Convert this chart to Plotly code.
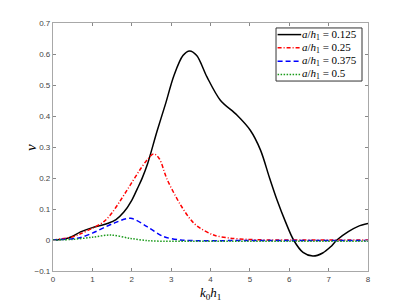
import plotly.graph_objects as go

# a/h1 = 0.125
x1 = [0, 0.3, 0.5, 0.7, 1.0, 1.21, 1.4, 1.6, 1.8, 2.0, 2.14, 2.26, 2.4, 2.64, 2.86, 3.07, 3.3, 3.47, 3.65, 3.91, 4.25, 4.67, 5.01, 5.27, 5.5, 5.69, 5.9, 6.11, 6.35, 6.6, 6.85, 7.05, 7.21, 7.5, 7.75, 8.0]
y1 = [0, 0.003, 0.012, 0.026, 0.04, 0.047, 0.054, 0.066, 0.09, 0.128, 0.165, 0.198, 0.245, 0.35, 0.44, 0.53, 0.595, 0.61, 0.595, 0.526, 0.451, 0.403, 0.354, 0.29, 0.2, 0.129, 0.06, 0.0, -0.04, -0.052, -0.042, -0.022, 0.0, 0.027, 0.044, 0.053]
# a/h1 = 0.25
x2 = [0, 0.5, 0.7, 1.0, 1.3, 1.5, 1.7, 2.0, 2.2, 2.4, 2.56, 2.7, 2.9, 3.24, 3.5, 3.66, 4.08, 4.5, 4.93, 5.5, 6.0, 7.0, 8.0]
y2 = [0, 0.01, 0.02, 0.038, 0.06, 0.088, 0.125, 0.185, 0.225, 0.26, 0.278, 0.262, 0.195, 0.113, 0.065, 0.045, 0.016, 0.006, 0.002, 0.0, 0, 0, 0]
# a/h1 = 0.375
x3 = [0, 0.5, 0.7, 1.0, 1.54, 1.97, 2.39, 2.81, 3.24, 3.6, 4.5, 6.0, 8.0]
y3 = [0, 0.004, 0.008, 0.022, 0.054, 0.07, 0.043, 0.011, 0.0, -0.002, -0.002, -0.002, -0.002]
# a/h1 = 0.5
x4 = [0, 0.5, 1.0, 1.46, 1.97, 2.4, 2.81, 3.5, 4.5, 6.0, 8.0]
y4 = [0, 0.002, 0.009, 0.016, 0.005, -0.002, -0.004, -0.004, -0.004, -0.004, -0.004]

names = ["<i>a</i>/<i>h</i><sub>1</sub> = 0.125", "<i>a</i>/<i>h</i><sub>1</sub> = 0.25",
         "<i>a</i>/<i>h</i><sub>1</sub> = 0.375", "<i>a</i>/<i>h</i><sub>1</sub> = 0.5"]
colors = ["black", "red", "blue", "#1a9a1a"]
dashes = ["solid", "4px,2px,1px,2px", "5px,3px", "1.5px,1.5px"]
xs = [x1, x2, x3, x4]
ys = [y1, y2, y3, y4]

fig = go.Figure()
for x, y, n, c, d in zip(xs, ys, names, colors, dashes):
    fig.add_trace(go.Scatter(x=x, y=y, name=n, mode="lines", showlegend=False,
                             line=dict(color=c, dash=d, width=1.5, shape="spline", smoothing=0.9)))

# compact legend box (paper coordinates), MATLAB style
lx0, lx1, ly0, ly1 = 0.708, 0.981, 0.766, 0.980
fig.add_shape(type="rect", xref="paper", yref="paper", x0=lx0, x1=lx1, y0=ly0, y1=ly1,
              line=dict(color="#333", width=1), fillcolor="white", layer="above")
row_h = (ly1 - ly0) / 4
for i, (n, c, d) in enumerate(zip(names, colors, dashes)):
    yc = ly1 - row_h * (i + 0.5)
    fig.add_shape(type="line", xref="paper", yref="paper", x0=lx0 + 0.005, x1=lx0 + 0.08,
                  y0=yc, y1=yc, line=dict(color=c, dash=d, width=1.5), layer="above")
    fig.add_annotation(xref="paper", yref="paper", x=lx0 + 0.08, y=yc, xanchor="left",
                       yanchor="middle", text=n, showarrow=False, borderpad=0,
                       font=dict(family="Liberation Serif", size=11, color="black"))

# axis titles
fig.add_annotation(xref="paper", yref="paper", x=0.5, y=-0.092, xanchor="center", yanchor="middle",
                   text="<i>k</i><sub>0</sub><i>h</i><sub>1</sub>", showarrow=False, borderpad=0,
                   font=dict(family="Liberation Serif", size=13, color="black"))
fig.add_annotation(xref="paper", yref="paper", x=-0.07, y=0.5, xanchor="center", yanchor="middle",
                   text="<i>ν</i>", showarrow=False, textangle=-90,
                   font=dict(family="Liberation Serif", size=15, color="black"))

axis_common = dict(showgrid=False, zeroline=False, showline=True, mirror="ticks",
                   linecolor="#a8a8a8", linewidth=1.3, ticks="inside", ticklen=3,
                   tickcolor="#888888", automargin=False,
                   tickfont=dict(family="Liberation Sans", size=8, color="#444"))
fig.update_xaxes(range=[0, 8], dtick=1, **axis_common)
fig.update_yaxes(range=[-0.1, 0.7], dtick=0.1, **axis_common)

fig.update_layout(width=399, height=297, margin=dict(l=45, r=39, t=15, b=34),
                  plot_bgcolor="white", paper_bgcolor="white", showlegend=False)
fig.write_html("out.html")
